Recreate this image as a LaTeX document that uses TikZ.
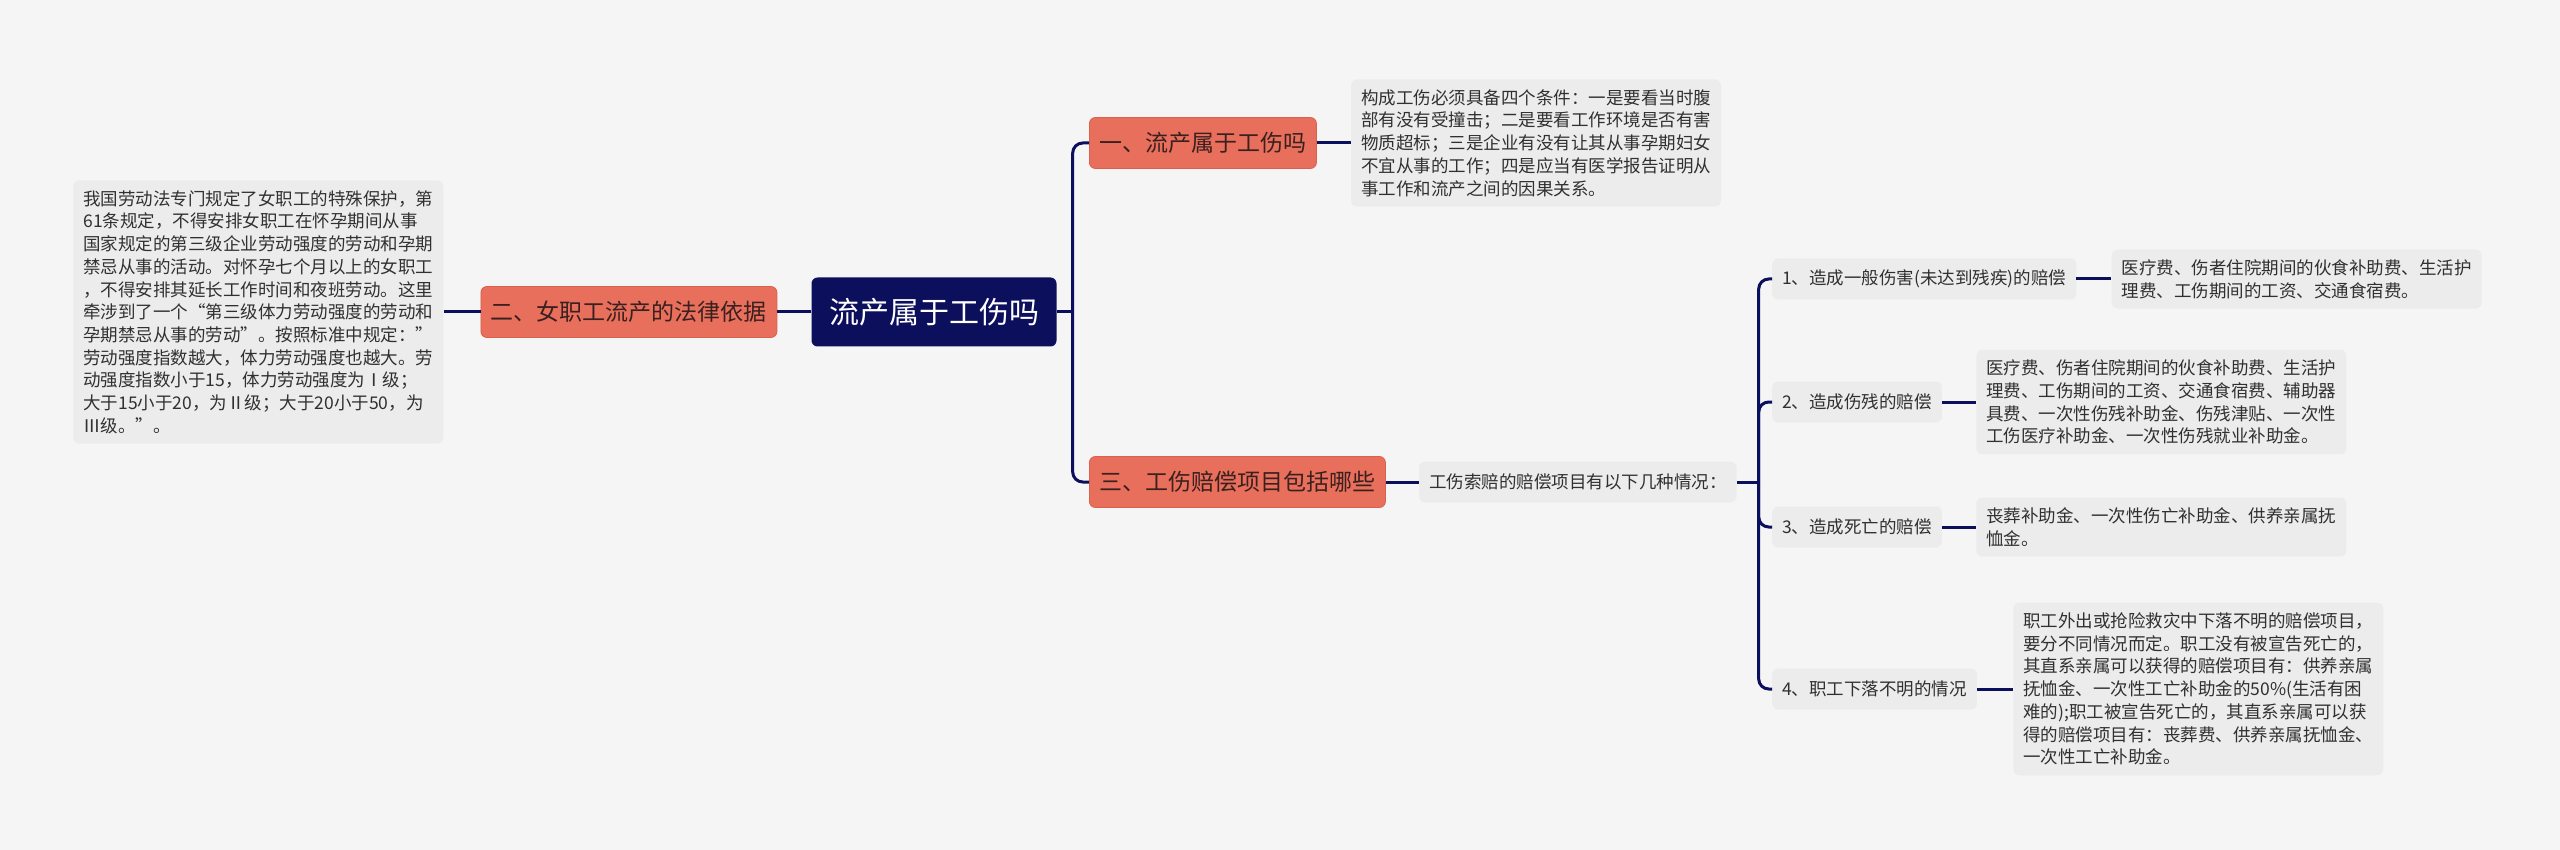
\documentclass[tikz,border=0pt]{standalone}
\usepackage{fontspec}
\setmainfont{Noto Sans CJK SC}
\usepackage{xcolor}
\usetikzlibrary{positioning}

\definecolor{fond}{RGB}{245,245,245}
\definecolor{marine}{RGB}{12,15,92}
\definecolor{saumon}{RGB}{232,111,92}
\definecolor{saumonbord}{RGB}{220,96,78}
\definecolor{feuille}{RGB}{236,236,236}
\definecolor{encre}{RGB}{48,48,48}
\definecolor{brun}{RGB}{58,32,30}

\begin{document}
\begin{tikzpicture}[
        x=1pt, y=-1pt,
        % Styles des nœuds
        every node/.style = {inner sep=0pt},
        % Racine (centre de la carte)
        rootbox/.style = {
            rectangle,
            fill=marine,
            text=white,
            rounded corners=6pt,
            minimum width=245pt,
            minimum height=69pt,
            font=\fontsize{30}{36}\selectfont
        },
        % Branches principales
        branch/.style = {
            rectangle,
            fill=saumon,
            draw=saumonbord,
            line width=0.8pt,
            text=brun,
            rounded corners=6pt,
            inner xsep=10pt,
            minimum height=51pt,
            font=\fontsize{23}{28}\selectfont
        },
        % Sous-titres sur une ligne
        leafbox/.style = {
            rectangle,
            fill=feuille,
            text=encre,
            rounded corners=6pt,
            inner xsep=10pt,
            minimum height=41pt,
            font=\fontsize{17.5}{21}\selectfont
        },
        % Blocs de texte
        infobox/.style = {
            rectangle,
            fill=feuille,
            text=encre,
            rounded corners=6pt,
            inner xsep=10pt,
            inner ysep=10pt,
            align=left,
            font=\fontsize{17.5}{22.7}\selectfont
        },
        % Liens
        link/.style = {
            draw=marine,
            line width=3pt,
            rounded corners=10pt
        }
    ]

        % Fond
        \fill[fond] (0,0) rectangle (2560,850);
        \useasboundingbox (0,0) rectangle (2560,850);

        % 1. Placement des nœuds
        \node (root) [rootbox] at (934,312) {流产属于工伤吗};

        \node (loi) [branch, left=34pt of root, minimum width=295pt] {二、女职工流产的法律依据};
        \node (loitxt) [infobox, left=37pt of loi] {我国劳动法专门规定了女职工的特殊保护，第\\
            61条规定，不得安排女职工在怀孕期间从事\\
            国家规定的第三级企业劳动强度的劳动和孕期\\
            禁忌从事的活动。对怀孕七个月以上的女职工\\
            ，不得安排其延长工作时间和夜班劳动。这里\\
            牵涉到了一个“第三级体力劳动强度的劳动和\\
            孕期禁忌从事的劳动”。按照标准中规定：”\\
            劳动强度指数越大，体力劳动强度也越大。劳\\
            动强度指数小于15，体力劳动强度为Ⅰ级；\\
            大于15小于20，为Ⅱ级；大于20小于50，为\\
            Ⅲ级。”。};

        \node (lien) [branch, anchor=west] at (1089,143) {一、流产属于工伤吗};
        \node (lientxt) [infobox, right=34pt of lien] {构成工伤必须具备四个条件：一是要看当时腹\\
            部有没有受撞击；二是要看工作环境是否有害\\
            物质超标；三是企业有没有让其从事孕期妇女\\
            不宜从事的工作；四是应当有医学报告证明从\\
            事工作和流产之间的因果关系。};

        \node (calc) [branch, anchor=west] at (1089,482) {三、工伤赔偿项目包括哪些};
        \node (calctxt) [leafbox, right=33pt of calc] {工伤索赔的赔偿项目有以下几种情况：};

        \node (cas1) [leafbox, anchor=west] at (1772,279) {1、造成一般伤害(未达到残疾)的赔偿};
        \node (cas2) [leafbox, anchor=west] at (1772,402) {2、造成伤残的赔偿};
        \node (cas3) [leafbox, anchor=west] at (1772,527) {3、造成死亡的赔偿};
        \node (cas4) [leafbox, anchor=west] at (1772,689) {4、职工下落不明的情况};

        \node (det1) [infobox, right=35pt of cas1] {医疗费、伤者住院期间的伙食补助费、生活护\\
            理费、工伤期间的工资、交通食宿费。};
        \node (det2) [infobox, right=34pt of cas2] {医疗费、伤者住院期间的伙食补助费、生活护\\
            理费、工伤期间的工资、交通食宿费、辅助器\\
            具费、一次性伤残补助金、伤残津贴、一次性\\
            工伤医疗补助金、一次性伤残就业补助金。};
        \node (det3) [infobox, right=34pt of cas3] {丧葬补助金、一次性伤亡补助金、供养亲属抚\\
            恤金。};
        \node (det4) [infobox, right=36pt of cas4] {职工外出或抢险救灾中下落不明的赔偿项目，\\
            要分不同情况而定。职工没有被宣告死亡的，\\
            其直系亲属可以获得的赔偿项目有：供养亲属\\
            抚恤金、一次性工亡补助金的50\%(生活有困\\
            难的);职工被宣告死亡的，其直系亲属可以获\\
            得的赔偿项目有：丧葬费、供养亲属抚恤金、\\
            一次性工亡补助金。};

        % 2. Tracé des liens
        \draw [link] (root.west) -- (loi.east);
        \draw [link] (loi.west) -- (loitxt.east);

        \draw [link] (root.east) -- ++(16,0) coordinate (f1);
        \draw [link] (f1) |- (lien.west);
        \draw [link] (f1) |- (calc.west);
        \draw [link] (lien.east) -- (lientxt.west);
        \draw [link] (calc.east) -- (calctxt.west);

        \draw [link] (calctxt.east) -- ++(22,0) coordinate (f2);
        \draw [link] (f2) |- (cas1.west);
        \draw [link] (f2) |- (cas2.west);
        \draw [link] (f2) |- (cas3.west);
        \draw [link] (f2) |- (cas4.west);

        \draw [link] (cas1.east) -- (det1.west);
        \draw [link] (cas2.east) -- (det2.west);
        \draw [link] (cas3.east) -- (det3.west);
        \draw [link] (cas4.east) -- (det4.west);

    \end{tikzpicture}
\end{document}
